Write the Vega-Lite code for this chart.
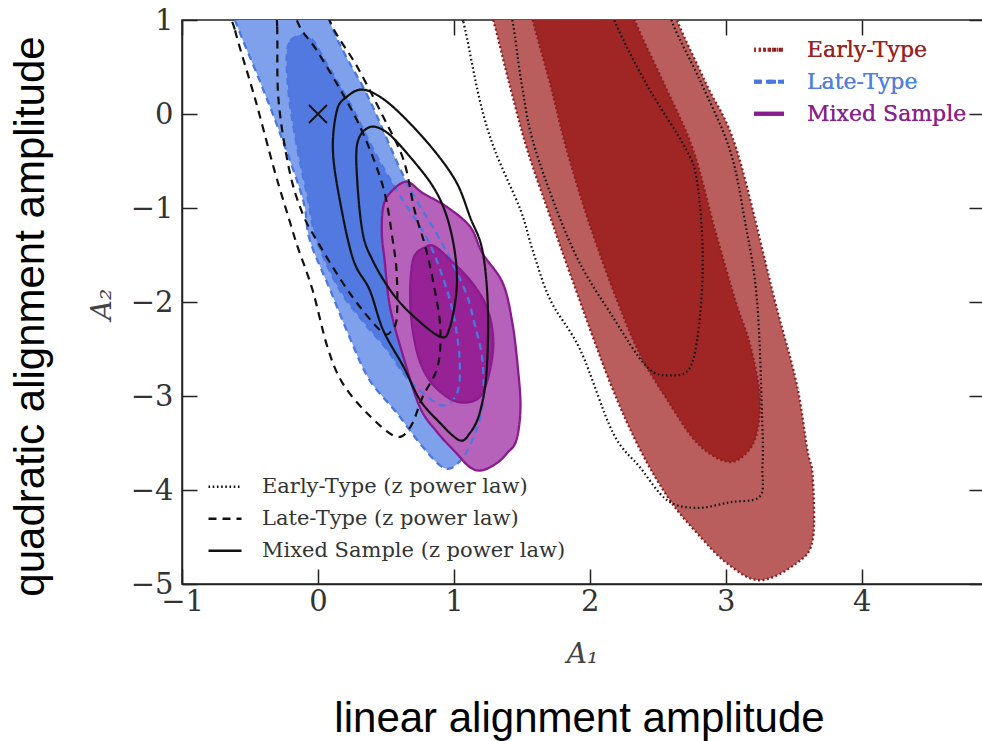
{
"$schema":"https://vega.github.io/schema/vega-lite/v6.json",
"width":802,"height":564,
"autosize":{"type":"none"},
"padding":{"left":182,"top":20,"right":0,"bottom":157},
"background":"white",
"config":{"view":{"stroke":"#222","strokeWidth":1.5},"font":"DejaVu Serif","axis":{"grid":false}},
"datasets":{
"fills":[
{"cid":"a_late95","sample":"Late-Type","i":0,"x":-0.72,"y":1.53},{"cid":"a_late95","sample":"Late-Type","i":1,"x":-0.61,"y":1.0},{"cid":"a_late95","sample":"Late-Type","i":2,"x":-0.43,"y":0.36},{"cid":"a_late95","sample":"Late-Type","i":3,"x":-0.28,"y":-0.2},{"cid":"a_late95","sample":"Late-Type","i":4,"x":-0.11,"y":-0.91},{"cid":"a_late95","sample":"Late-Type","i":5,"x":-0.06,"y":-1.34},{"cid":"a_late95","sample":"Late-Type","i":6,"x":0.09,"y":-1.87},{"cid":"a_late95","sample":"Late-Type","i":7,"x":0.24,"y":-2.4},{"cid":"a_late95","sample":"Late-Type","i":8,"x":0.38,"y":-2.83},{"cid":"a_late95","sample":"Late-Type","i":9,"x":0.58,"y":-3.18},{"cid":"a_late95","sample":"Late-Type","i":10,"x":0.77,"y":-3.54},{"cid":"a_late95","sample":"Late-Type","i":11,"x":0.92,"y":-3.76},{"cid":"a_late95","sample":"Late-Type","i":12,"x":1.02,"y":-3.73},{"cid":"a_late95","sample":"Late-Type","i":13,"x":1.12,"y":-3.52},{"cid":"a_late95","sample":"Late-Type","i":14,"x":1.21,"y":-3.12},{"cid":"a_late95","sample":"Late-Type","i":15,"x":1.21,"y":-2.62},{"cid":"a_late95","sample":"Late-Type","i":16,"x":1.15,"y":-2.22},{"cid":"a_late95","sample":"Late-Type","i":17,"x":1.08,"y":-1.87},{"cid":"a_late95","sample":"Late-Type","i":18,"x":0.9,"y":-1.34},{"cid":"a_late95","sample":"Late-Type","i":19,"x":0.65,"y":-0.72},{"cid":"a_late95","sample":"Late-Type","i":20,"x":0.38,"y":0.15},{"cid":"a_late95","sample":"Late-Type","i":21,"x":0.2,"y":0.63},{"cid":"a_late95","sample":"Late-Type","i":22,"x":0.09,"y":0.98},{"cid":"a_late95","sample":"Late-Type","i":23,"x":-0.02,"y":1.53},
{"cid":"b_late68","sample":"Late-Type","i":0,"x":-0.13,"y":0.84},{"cid":"b_late68","sample":"Late-Type","i":1,"x":-0.21,"y":0.76},{"cid":"b_late68","sample":"Late-Type","i":2,"x":-0.23,"y":0.57},{"cid":"b_late68","sample":"Late-Type","i":3,"x":-0.21,"y":0.15},{"cid":"b_late68","sample":"Late-Type","i":4,"x":-0.15,"y":-0.38},{"cid":"b_late68","sample":"Late-Type","i":5,"x":-0.08,"y":-0.86},{"cid":"b_late68","sample":"Late-Type","i":6,"x":-0.01,"y":-1.34},{"cid":"b_late68","sample":"Late-Type","i":7,"x":0.16,"y":-1.87},{"cid":"b_late68","sample":"Late-Type","i":8,"x":0.35,"y":-2.24},{"cid":"b_late68","sample":"Late-Type","i":9,"x":0.51,"y":-2.51},{"cid":"b_late68","sample":"Late-Type","i":10,"x":0.64,"y":-2.78},{"cid":"b_late68","sample":"Late-Type","i":11,"x":0.79,"y":-2.99},{"cid":"b_late68","sample":"Late-Type","i":12,"x":0.93,"y":-3.1},{"cid":"b_late68","sample":"Late-Type","i":13,"x":1.03,"y":-2.94},{"cid":"b_late68","sample":"Late-Type","i":14,"x":1.04,"y":-2.56},{"cid":"b_late68","sample":"Late-Type","i":15,"x":0.99,"y":-2.09},{"cid":"b_late68","sample":"Late-Type","i":16,"x":0.9,"y":-1.66},{"cid":"b_late68","sample":"Late-Type","i":17,"x":0.79,"y":-1.29},{"cid":"b_late68","sample":"Late-Type","i":18,"x":0.6,"y":-0.86},{"cid":"b_late68","sample":"Late-Type","i":19,"x":0.43,"y":-0.44},{"cid":"b_late68","sample":"Late-Type","i":20,"x":0.24,"y":0.1},{"cid":"b_late68","sample":"Late-Type","i":21,"x":0.05,"y":0.57},{"cid":"b_late68","sample":"Late-Type","i":22,"x":-0.04,"y":0.79},
{"cid":"c_mix95","sample":"Mixed Sample","i":0,"x":0.48,"y":-0.99},{"cid":"c_mix95","sample":"Mixed Sample","i":1,"x":0.53,"y":-0.84},{"cid":"c_mix95","sample":"Mixed Sample","i":2,"x":0.65,"y":-0.72},{"cid":"c_mix95","sample":"Mixed Sample","i":3,"x":0.77,"y":-0.84},{"cid":"c_mix95","sample":"Mixed Sample","i":4,"x":0.95,"y":-0.99},{"cid":"c_mix95","sample":"Mixed Sample","i":5,"x":1.12,"y":-1.2},{"cid":"c_mix95","sample":"Mixed Sample","i":6,"x":1.21,"y":-1.48},{"cid":"c_mix95","sample":"Mixed Sample","i":7,"x":1.36,"y":-1.8},{"cid":"c_mix95","sample":"Mixed Sample","i":8,"x":1.43,"y":-2.22},{"cid":"c_mix95","sample":"Mixed Sample","i":9,"x":1.47,"y":-2.69},{"cid":"c_mix95","sample":"Mixed Sample","i":10,"x":1.49,"y":-3.12},{"cid":"c_mix95","sample":"Mixed Sample","i":11,"x":1.46,"y":-3.47},{"cid":"c_mix95","sample":"Mixed Sample","i":12,"x":1.39,"y":-3.61},{"cid":"c_mix95","sample":"Mixed Sample","i":13,"x":1.32,"y":-3.71},{"cid":"c_mix95","sample":"Mixed Sample","i":14,"x":1.21,"y":-3.79},{"cid":"c_mix95","sample":"Mixed Sample","i":15,"x":1.12,"y":-3.76},{"cid":"c_mix95","sample":"Mixed Sample","i":16,"x":1.02,"y":-3.61},{"cid":"c_mix95","sample":"Mixed Sample","i":17,"x":0.88,"y":-3.39},{"cid":"c_mix95","sample":"Mixed Sample","i":18,"x":0.75,"y":-3.12},{"cid":"c_mix95","sample":"Mixed Sample","i":19,"x":0.63,"y":-2.59},{"cid":"c_mix95","sample":"Mixed Sample","i":20,"x":0.53,"y":-2.05},{"cid":"c_mix95","sample":"Mixed Sample","i":21,"x":0.49,"y":-1.55},{"cid":"c_mix95","sample":"Mixed Sample","i":22,"x":0.47,"y":-1.27},
{"cid":"d_mix68","sample":"Mixed Sample","i":0,"x":0.8,"y":-1.41},{"cid":"d_mix68","sample":"Mixed Sample","i":1,"x":0.7,"y":-1.55},{"cid":"d_mix68","sample":"Mixed Sample","i":2,"x":0.68,"y":-2.05},{"cid":"d_mix68","sample":"Mixed Sample","i":3,"x":0.73,"y":-2.54},{"cid":"d_mix68","sample":"Mixed Sample","i":4,"x":0.82,"y":-2.83},{"cid":"d_mix68","sample":"Mixed Sample","i":5,"x":0.95,"y":-3.01},{"cid":"d_mix68","sample":"Mixed Sample","i":6,"x":1.07,"y":-3.07},{"cid":"d_mix68","sample":"Mixed Sample","i":7,"x":1.19,"y":-3.01},{"cid":"d_mix68","sample":"Mixed Sample","i":8,"x":1.26,"y":-2.76},{"cid":"d_mix68","sample":"Mixed Sample","i":9,"x":1.29,"y":-2.4},{"cid":"d_mix68","sample":"Mixed Sample","i":10,"x":1.24,"y":-2.05},{"cid":"d_mix68","sample":"Mixed Sample","i":11,"x":1.12,"y":-1.77},{"cid":"d_mix68","sample":"Mixed Sample","i":12,"x":0.95,"y":-1.52},{"cid":"d_mix68","sample":"Mixed Sample","i":13,"x":0.86,"y":-1.41},
{"cid":"e_early95","sample":"Early-Type","i":0,"x":1.18,"y":1.53},{"cid":"e_early95","sample":"Early-Type","i":1,"x":1.29,"y":1.0},{"cid":"e_early95","sample":"Early-Type","i":2,"x":1.41,"y":0.31},{"cid":"e_early95","sample":"Early-Type","i":3,"x":1.54,"y":-0.38},{"cid":"e_early95","sample":"Early-Type","i":4,"x":1.71,"y":-1.1},{"cid":"e_early95","sample":"Early-Type","i":5,"x":1.88,"y":-1.8},{"cid":"e_early95","sample":"Early-Type","i":6,"x":2.15,"y":-2.86},{"cid":"e_early95","sample":"Early-Type","i":7,"x":2.37,"y":-3.57},{"cid":"e_early95","sample":"Early-Type","i":8,"x":2.59,"y":-4.11},{"cid":"e_early95","sample":"Early-Type","i":9,"x":2.79,"y":-4.46},{"cid":"e_early95","sample":"Early-Type","i":10,"x":3.01,"y":-4.78},{"cid":"e_early95","sample":"Early-Type","i":11,"x":3.25,"y":-4.96},{"cid":"e_early95","sample":"Early-Type","i":12,"x":3.52,"y":-4.78},{"cid":"e_early95","sample":"Early-Type","i":13,"x":3.64,"y":-4.53},{"cid":"e_early95","sample":"Early-Type","i":14,"x":3.64,"y":-3.86},{"cid":"e_early95","sample":"Early-Type","i":15,"x":3.6,"y":-3.57},{"cid":"e_early95","sample":"Early-Type","i":16,"x":3.52,"y":-2.86},{"cid":"e_early95","sample":"Early-Type","i":17,"x":3.36,"y":-1.98},{"cid":"e_early95","sample":"Early-Type","i":18,"x":3.08,"y":-0.38},{"cid":"e_early95","sample":"Early-Type","i":19,"x":2.86,"y":0.31},{"cid":"e_early95","sample":"Early-Type","i":20,"x":2.64,"y":1.0},{"cid":"e_early95","sample":"Early-Type","i":21,"x":2.51,"y":1.53},
{"cid":"f_early68","sample":"Early-Type","i":0,"x":1.49,"y":1.53},{"cid":"f_early68","sample":"Early-Type","i":1,"x":1.58,"y":1.0},{"cid":"f_early68","sample":"Early-Type","i":2,"x":1.71,"y":0.31},{"cid":"f_early68","sample":"Early-Type","i":3,"x":1.83,"y":-0.38},{"cid":"f_early68","sample":"Early-Type","i":4,"x":2.0,"y":-1.18},{"cid":"f_early68","sample":"Early-Type","i":5,"x":2.2,"y":-1.98},{"cid":"f_early68","sample":"Early-Type","i":6,"x":2.37,"y":-2.56},{"cid":"f_early68","sample":"Early-Type","i":7,"x":2.57,"y":-3.04},{"cid":"f_early68","sample":"Early-Type","i":8,"x":2.79,"y":-3.5},{"cid":"f_early68","sample":"Early-Type","i":9,"x":3.01,"y":-3.7},{"cid":"f_early68","sample":"Early-Type","i":10,"x":3.15,"y":-3.61},{"cid":"f_early68","sample":"Early-Type","i":11,"x":3.23,"y":-3.39},{"cid":"f_early68","sample":"Early-Type","i":12,"x":3.25,"y":-2.99},{"cid":"f_early68","sample":"Early-Type","i":13,"x":3.18,"y":-2.46},{"cid":"f_early68","sample":"Early-Type","i":14,"x":3.07,"y":-1.98},{"cid":"f_early68","sample":"Early-Type","i":15,"x":2.92,"y":-1.23},{"cid":"f_early68","sample":"Early-Type","i":16,"x":2.76,"y":-0.38},{"cid":"f_early68","sample":"Early-Type","i":17,"x":2.55,"y":0.31},{"cid":"f_early68","sample":"Early-Type","i":18,"x":2.33,"y":1.0},{"cid":"f_early68","sample":"Early-Type","i":19,"x":2.22,"y":1.53}
],
"zlines":[
{"cid":"ez95","model":"Early-Type (z power law)","i":0,"x":0.96,"y":1.53},{"cid":"ez95","model":"Early-Type (z power law)","i":1,"x":1.07,"y":0.98},{"cid":"ez95","model":"Early-Type (z power law)","i":2,"x":1.19,"y":0.15},{"cid":"ez95","model":"Early-Type (z power law)","i":3,"x":1.3,"y":-0.38},{"cid":"ez95","model":"Early-Type (z power law)","i":4,"x":1.49,"y":-1.02},{"cid":"ez95","model":"Early-Type (z power law)","i":5,"x":1.58,"y":-1.45},{"cid":"ez95","model":"Early-Type (z power law)","i":6,"x":1.71,"y":-1.98},{"cid":"ez95","model":"Early-Type (z power law)","i":7,"x":1.93,"y":-2.51},{"cid":"ez95","model":"Early-Type (z power law)","i":8,"x":2.17,"y":-3.39},{"cid":"ez95","model":"Early-Type (z power law)","i":9,"x":2.37,"y":-3.76},{"cid":"ez95","model":"Early-Type (z power law)","i":10,"x":2.57,"y":-4.11},{"cid":"ez95","model":"Early-Type (z power law)","i":11,"x":2.79,"y":-4.19},{"cid":"ez95","model":"Early-Type (z power law)","i":12,"x":3.03,"y":-4.13},{"cid":"ez95","model":"Early-Type (z power law)","i":13,"x":3.25,"y":-4.07},{"cid":"ez95","model":"Early-Type (z power law)","i":14,"x":3.27,"y":-3.76},{"cid":"ez95","model":"Early-Type (z power law)","i":15,"x":3.27,"y":-3.33},{"cid":"ez95","model":"Early-Type (z power law)","i":16,"x":3.23,"y":-1.98},{"cid":"ez95","model":"Early-Type (z power law)","i":17,"x":3.14,"y":-1.13},{"cid":"ez95","model":"Early-Type (z power law)","i":18,"x":3.03,"y":-0.38},{"cid":"ez95","model":"Early-Type (z power law)","i":19,"x":2.81,"y":0.36},{"cid":"ez95","model":"Early-Type (z power law)","i":20,"x":2.6,"y":1.0},{"cid":"ez95","model":"Early-Type (z power law)","i":21,"x":2.51,"y":1.53},
{"cid":"ez68","model":"Early-Type (z power law)","i":0,"x":1.34,"y":1.53},{"cid":"ez68","model":"Early-Type (z power law)","i":1,"x":1.43,"y":1.0},{"cid":"ez68","model":"Early-Type (z power law)","i":2,"x":1.5,"y":0.31},{"cid":"ez68","model":"Early-Type (z power law)","i":3,"x":1.6,"y":-0.38},{"cid":"ez68","model":"Early-Type (z power law)","i":4,"x":1.88,"y":-1.45},{"cid":"ez68","model":"Early-Type (z power law)","i":5,"x":2.17,"y":-2.16},{"cid":"ez68","model":"Early-Type (z power law)","i":6,"x":2.42,"y":-2.69},{"cid":"ez68","model":"Early-Type (z power law)","i":7,"x":2.59,"y":-2.78},{"cid":"ez68","model":"Early-Type (z power law)","i":8,"x":2.74,"y":-2.69},{"cid":"ez68","model":"Early-Type (z power law)","i":9,"x":2.81,"y":-2.16},{"cid":"ez68","model":"Early-Type (z power law)","i":10,"x":2.83,"y":-1.45},{"cid":"ez68","model":"Early-Type (z power law)","i":11,"x":2.79,"y":-0.73},{"cid":"ez68","model":"Early-Type (z power law)","i":12,"x":2.71,"y":-0.38},{"cid":"ez68","model":"Early-Type (z power law)","i":13,"x":2.42,"y":0.31},{"cid":"ez68","model":"Early-Type (z power law)","i":14,"x":2.18,"y":1.0},{"cid":"ez68","model":"Early-Type (z power law)","i":15,"x":2.07,"y":1.53},
{"cid":"lz95","model":"Late-Type (z power law)","i":0,"x":-0.71,"y":1.53},{"cid":"lz95","model":"Late-Type (z power law)","i":1,"x":-0.61,"y":0.89},{"cid":"lz95","model":"Late-Type (z power law)","i":2,"x":-0.46,"y":0.15},{"cid":"lz95","model":"Late-Type (z power law)","i":3,"x":-0.32,"y":-0.6},{"cid":"lz95","model":"Late-Type (z power law)","i":4,"x":-0.21,"y":-1.13},{"cid":"lz95","model":"Late-Type (z power law)","i":5,"x":-0.15,"y":-1.41},{"cid":"lz95","model":"Late-Type (z power law)","i":6,"x":-0.04,"y":-1.87},{"cid":"lz95","model":"Late-Type (z power law)","i":7,"x":0.07,"y":-2.48},{"cid":"lz95","model":"Late-Type (z power law)","i":8,"x":0.18,"y":-2.86},{"cid":"lz95","model":"Late-Type (z power law)","i":9,"x":0.36,"y":-3.18},{"cid":"lz95","model":"Late-Type (z power law)","i":10,"x":0.57,"y":-3.43},{"cid":"lz95","model":"Late-Type (z power law)","i":11,"x":0.68,"y":-3.33},{"cid":"lz95","model":"Late-Type (z power law)","i":12,"x":0.77,"y":-3.01},{"cid":"lz95","model":"Late-Type (z power law)","i":13,"x":0.88,"y":-2.69},{"cid":"lz95","model":"Late-Type (z power law)","i":14,"x":0.9,"y":-2.27},{"cid":"lz95","model":"Late-Type (z power law)","i":15,"x":0.85,"y":-1.8},{"cid":"lz95","model":"Late-Type (z power law)","i":16,"x":0.79,"y":-1.41},{"cid":"lz95","model":"Late-Type (z power law)","i":17,"x":0.71,"y":-1.02},{"cid":"lz95","model":"Late-Type (z power law)","i":18,"x":0.63,"y":-0.49},{"cid":"lz95","model":"Late-Type (z power law)","i":19,"x":0.48,"y":-0.03},{"cid":"lz95","model":"Late-Type (z power law)","i":20,"x":0.29,"y":0.5},{"cid":"lz95","model":"Late-Type (z power law)","i":21,"x":0.09,"y":0.98},{"cid":"lz95","model":"Late-Type (z power law)","i":22,"x":-0.02,"y":1.53},
{"cid":"lz68","model":"Late-Type (z power law)","i":0,"x":-0.32,"y":1.53},{"cid":"lz68","model":"Late-Type (z power law)","i":1,"x":-0.3,"y":0.93},{"cid":"lz68","model":"Late-Type (z power law)","i":2,"x":-0.29,"y":0.15},{"cid":"lz68","model":"Late-Type (z power law)","i":3,"x":-0.21,"y":-0.6},{"cid":"lz68","model":"Late-Type (z power law)","i":4,"x":-0.11,"y":-1.07},{"cid":"lz68","model":"Late-Type (z power law)","i":5,"x":0.01,"y":-1.39},{"cid":"lz68","model":"Late-Type (z power law)","i":6,"x":0.18,"y":-1.79},{"cid":"lz68","model":"Late-Type (z power law)","i":7,"x":0.33,"y":-2.09},{"cid":"lz68","model":"Late-Type (z power law)","i":8,"x":0.48,"y":-2.33},{"cid":"lz68","model":"Late-Type (z power law)","i":9,"x":0.54,"y":-2.31},{"cid":"lz68","model":"Late-Type (z power law)","i":10,"x":0.58,"y":-2.17},{"cid":"lz68","model":"Late-Type (z power law)","i":11,"x":0.58,"y":-1.71},{"cid":"lz68","model":"Late-Type (z power law)","i":12,"x":0.55,"y":-1.34},{"cid":"lz68","model":"Late-Type (z power law)","i":13,"x":0.48,"y":-0.78},{"cid":"lz68","model":"Late-Type (z power law)","i":14,"x":0.33,"y":-0.2},{"cid":"lz68","model":"Late-Type (z power law)","i":15,"x":0.18,"y":0.22},{"cid":"lz68","model":"Late-Type (z power law)","i":16,"x":-0.01,"y":0.68},{"cid":"lz68","model":"Late-Type (z power law)","i":17,"x":-0.15,"y":0.98},{"cid":"lz68","model":"Late-Type (z power law)","i":18,"x":-0.24,"y":1.53},
{"cid":"mz95","model":"Mixed Sample (z power law)","i":0,"x":0.32,"y":0.26},{"cid":"mz95","model":"Mixed Sample (z power law)","i":1,"x":0.21,"y":0.18},{"cid":"mz95","model":"Mixed Sample (z power law)","i":2,"x":0.14,"y":0.04},{"cid":"mz95","model":"Mixed Sample (z power law)","i":3,"x":0.11,"y":-0.38},{"cid":"mz95","model":"Mixed Sample (z power law)","i":4,"x":0.16,"y":-0.91},{"cid":"mz95","model":"Mixed Sample (z power law)","i":5,"x":0.26,"y":-1.55},{"cid":"mz95","model":"Mixed Sample (z power law)","i":6,"x":0.38,"y":-1.87},{"cid":"mz95","model":"Mixed Sample (z power law)","i":7,"x":0.48,"y":-2.3},{"cid":"mz95","model":"Mixed Sample (z power law)","i":8,"x":0.63,"y":-2.69},{"cid":"mz95","model":"Mixed Sample (z power law)","i":9,"x":0.75,"y":-3.04},{"cid":"mz95","model":"Mixed Sample (z power law)","i":10,"x":0.88,"y":-3.26},{"cid":"mz95","model":"Mixed Sample (z power law)","i":11,"x":1.04,"y":-3.47},{"cid":"mz95","model":"Mixed Sample (z power law)","i":12,"x":1.12,"y":-3.39},{"cid":"mz95","model":"Mixed Sample (z power law)","i":13,"x":1.19,"y":-3.18},{"cid":"mz95","model":"Mixed Sample (z power law)","i":14,"x":1.24,"y":-2.76},{"cid":"mz95","model":"Mixed Sample (z power law)","i":15,"x":1.25,"y":-2.05},{"cid":"mz95","model":"Mixed Sample (z power law)","i":16,"x":1.21,"y":-1.45},{"cid":"mz95","model":"Mixed Sample (z power law)","i":17,"x":1.12,"y":-1.1},{"cid":"mz95","model":"Mixed Sample (z power law)","i":18,"x":1.02,"y":-0.73},{"cid":"mz95","model":"Mixed Sample (z power law)","i":19,"x":0.85,"y":-0.38},{"cid":"mz95","model":"Mixed Sample (z power law)","i":20,"x":0.63,"y":-0.03},{"cid":"mz95","model":"Mixed Sample (z power law)","i":21,"x":0.46,"y":0.18},
{"cid":"mz68","model":"Mixed Sample (z power law)","i":0,"x":0.38,"y":-0.14},{"cid":"mz68","model":"Mixed Sample (z power law)","i":1,"x":0.29,"y":-0.31},{"cid":"mz68","model":"Mixed Sample (z power law)","i":2,"x":0.29,"y":-0.73},{"cid":"mz68","model":"Mixed Sample (z power law)","i":3,"x":0.33,"y":-1.27},{"cid":"mz68","model":"Mixed Sample (z power law)","i":4,"x":0.4,"y":-1.55},{"cid":"mz68","model":"Mixed Sample (z power law)","i":5,"x":0.53,"y":-1.87},{"cid":"mz68","model":"Mixed Sample (z power law)","i":6,"x":0.68,"y":-2.12},{"cid":"mz68","model":"Mixed Sample (z power law)","i":7,"x":0.9,"y":-2.37},{"cid":"mz68","model":"Mixed Sample (z power law)","i":8,"x":0.97,"y":-2.27},{"cid":"mz68","model":"Mixed Sample (z power law)","i":9,"x":1.02,"y":-1.87},{"cid":"mz68","model":"Mixed Sample (z power law)","i":10,"x":1.01,"y":-1.5},{"cid":"mz68","model":"Mixed Sample (z power law)","i":11,"x":0.95,"y":-1.1},{"cid":"mz68","model":"Mixed Sample (z power law)","i":12,"x":0.85,"y":-0.78},{"cid":"mz68","model":"Mixed Sample (z power law)","i":13,"x":0.68,"y":-0.46},{"cid":"mz68","model":"Mixed Sample (z power law)","i":14,"x":0.51,"y":-0.2}
],
"marker":[{"x":0,"y":0}]
},
"layer":[
{"data":{"name":"fills"},
 "mark":{"type":"line","interpolate":"cardinal-closed","clip":true,"strokeWidth":0},
 "encoding":{
  "x":{"field":"x","type":"quantitative","scale":{"domain":[-1,4.9],"nice":false,"zero":false},
   "axis":{"orient":"bottom","values":[-1,0,1,2,3,4],"title":"A₁","titleFont":"DejaVu Serif","titleFontStyle":"italic","titleFontWeight":"normal","titleFontSize":28,"titleColor":"#444","titleX":400,"titleY":78,"titleBaseline":"alphabetic","titleAlign":"center","labelFont":"DejaVu Serif","labelFontSize":29,"labelColor":"#333","labelPadding":18,"labelOverlap":false,"labelFlush":false,"labelBound":false,"tickSize":-15,"tickWidth":1.5,"tickColor":"#222","domainColor":"#222","domainWidth":1.5}},
  "y":{"field":"y","type":"quantitative","scale":{"domain":[-5,1],"nice":false,"zero":false},
   "axis":{"orient":"left","values":[-5,-4,-3,-2,-1,0,1],"title":"A₂","titleFont":"DejaVu Serif","titleFontStyle":"italic","titleFontWeight":"normal","titleFontSize":28,"titleColor":"#444","titleAngle":-90,"titleX":-72,"titleY":284,"titleBaseline":"alphabetic","titleAlign":"center","labelFont":"DejaVu Serif","labelFontSize":29,"labelColor":"#333","labelPadding":24,"labelOverlap":false,"labelFlush":false,"labelBound":false,"tickSize":-15,"tickWidth":1.5,"tickColor":"#222","domainColor":"#222","domainWidth":1.5}},
  "detail":{"field":"cid"},
  "order":{"field":"i","type":"quantitative"},
  "fill":{"field":"cid","type":"nominal","legend":null,
   "scale":{"domain":["a_late95","b_late68","c_mix95","d_mix68","e_early95","f_early68"],"range":["#7fa0eb","#5279df","#b662bb","#962296","#b95d5d","#a02525"]}}
 }},
{"data":{"name":"fills"},
 "mark":{"type":"line","interpolate":"cardinal-closed","clip":true,"strokeWidth":2.3},
 "encoding":{
  "x":{"field":"x","type":"quantitative","scale":{"domain":[-1,4.9],"nice":false,"zero":false},"axis":null},
  "y":{"field":"y","type":"quantitative","scale":{"domain":[-5,1],"nice":false,"zero":false},"axis":null},
  "detail":{"field":"cid"},
  "order":{"field":"i","type":"quantitative"},
  "stroke":{"field":"sample","type":"nominal",
   "scale":{"domain":["Early-Type","Late-Type","Mixed Sample"],"range":["#8e1d1d","#4a78e0","#8a1b8e"]},
   "legend":{"title":null,"orient":"none","legendX":570,"legendY":14,"padding":0,"symbolType":"stroke","symbolSize":900,"symbolStrokeWidth":4,"labelFont":"DejaVu Serif","labelFontSize":22,"labelOffset":21,"labelLimit":400,"clipHeight":31.5,"rowPadding":0,
    "encode":{"labels":{"update":{"fill":{"signal":"datum.value == 'Early-Type' ? '#9b2222' : datum.value == 'Late-Type' ? '#4f7fe0' : '#8b1f8f'"}}},
              "symbols":{"update":{"stroke":{"signal":"datum.value == 'Early-Type' ? '#a52a2a' : datum.value == 'Late-Type' ? '#4a78e0' : '#8a1b8e'"},"strokeDash":{"signal":"datum.value == 'Early-Type' ? [2,3] : datum.value == 'Late-Type' ? [8,6] : [1,0]"}}}}}},
  "strokeDash":{"field":"sample","type":"nominal",
   "scale":{"domain":["Early-Type","Late-Type","Mixed Sample"],"range":[[2,2.5],[7,5],[1,0]]},
   "legend":{"title":null,"orient":"none","legendX":570,"legendY":14,"padding":0,"symbolType":"stroke","symbolSize":900,"symbolStrokeWidth":4,"labelFont":"DejaVu Serif","labelFontSize":22,"labelOffset":21,"labelLimit":400,"clipHeight":31.5,"rowPadding":0,
    "encode":{"labels":{"update":{"fill":{"signal":"datum.value == 'Early-Type' ? '#9b2222' : datum.value == 'Late-Type' ? '#4f7fe0' : '#8b1f8f'"}}},
              "symbols":{"update":{"stroke":{"signal":"datum.value == 'Early-Type' ? '#a52a2a' : datum.value == 'Late-Type' ? '#4a78e0' : '#8a1b8e'"},"strokeDash":{"signal":"datum.value == 'Early-Type' ? [2,3] : datum.value == 'Late-Type' ? [8,6] : [1,0]"}}}}}}
 }},
{"data":{"name":"zlines"},
 "mark":{"type":"line","interpolate":"cardinal-closed","clip":true,"strokeWidth":2.2,"color":"#111"},
 "encoding":{
  "x":{"field":"x","type":"quantitative","scale":{"domain":[-1,4.9],"nice":false,"zero":false},"axis":null},
  "y":{"field":"y","type":"quantitative","scale":{"domain":[-5,1],"nice":false,"zero":false},"axis":null},
  "detail":{"field":"cid"},
  "order":{"field":"i","type":"quantitative"},
  "strokeDash":{"field":"model","type":"nominal",
   "scale":{"domain":["Early-Type (z power law)","Late-Type (z power law)","Mixed Sample (z power law)"],"range":[[1.6,2.6],[8,6],[1,0]]},
   "legend":{"title":null,"orient":"none","legendX":25,"legendY":451,"padding":0,"symbolType":"stroke","symbolSize":1089,"symbolStrokeWidth":2.5,"symbolStrokeColor":"#111","labelFont":"DejaVu Serif","labelFontSize":21,"labelColor":"#333","labelOffset":19,"labelLimit":400,"clipHeight":31.5,"rowPadding":0}}
 }},
{"data":{"name":"marker"},
 "mark":{"type":"point","shape":"M-1,-1L1,1M-1,1L1,-1","size":324,"filled":false,"stroke":"#111","strokeWidth":1.8,"opacity":1},
 "encoding":{
  "x":{"field":"x","type":"quantitative","scale":{"domain":[-1,4.9],"nice":false,"zero":false},
   "axis":{"orient":"top","values":[-1,0,1,2,3,4],"labels":false,"domain":false,"title":null,"tickSize":-15,"tickWidth":1.5,"tickColor":"#222"}},
  "y":{"field":"y","type":"quantitative","scale":{"domain":[-5,1],"nice":false,"zero":false},
   "axis":{"orient":"right","values":[-5,-4,-3,-2,-1,0,1],"labels":false,"domain":false,"title":null,"tickSize":-15,"tickWidth":1.5,"tickColor":"#222"}}
 }},
{"data":{"name":"marker"},
 "mark":{"type":"point","opacity":0},
 "encoding":{
  "x":{"field":"x","type":"quantitative","scale":{"domain":[-1,4.9],"nice":false,"zero":false},
   "axis":{"orient":"bottom","labels":false,"ticks":false,"domain":false,"title":"linear alignment amplitude","titleFont":"Liberation Sans","titleFontSize":42,"titleFontWeight":"normal","titleColor":"#000","titleX":397,"titleY":147,"titleBaseline":"alphabetic","titleAlign":"center"}},
  "y":{"field":"y","type":"quantitative","scale":{"domain":[-5,1],"nice":false,"zero":false},
   "axis":{"orient":"left","labels":false,"ticks":false,"domain":false,"title":"quadratic alignment amplitude","titleFont":"Liberation Sans","titleFontSize":42,"titleFontWeight":"normal","titleColor":"#000","titleAngle":-90,"titleX":-139,"titleY":296,"titleBaseline":"alphabetic","titleAlign":"center"}}
 }}
],
"resolve":{"scale":{"strokeDash":"independent"},"axis":{"x":"independent","y":"independent"}}
}
